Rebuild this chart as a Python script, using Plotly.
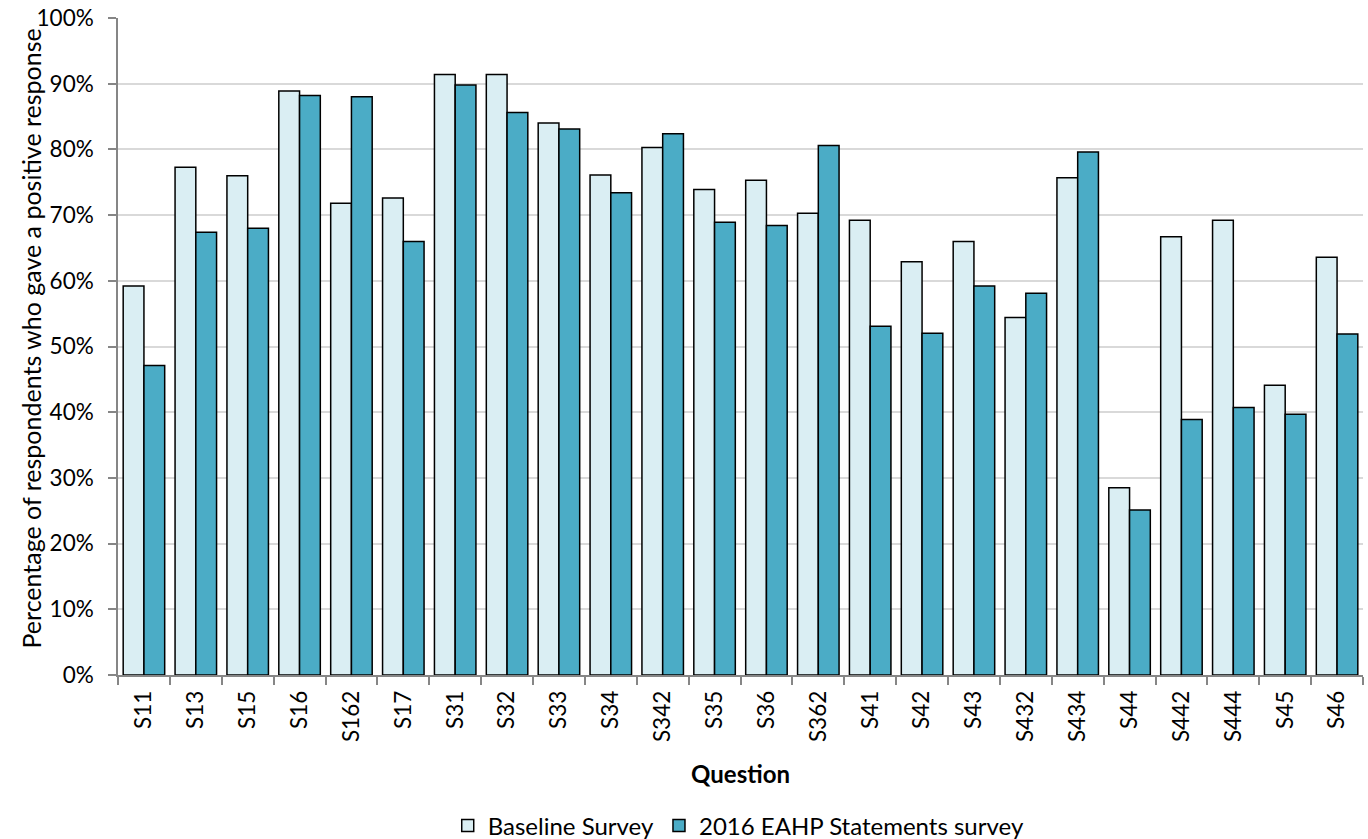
import plotly.graph_objects as go

questions = ["S11", "S13", "S15", "S16", "S162", "S17", "S31", "S32", "S33", "S34",
             "S342", "S35", "S36", "S362", "S41", "S42", "S43", "S432", "S434", "S44",
             "S442", "S444", "S45", "S46"]
baseline = [59.2, 77.3, 76.0, 88.9, 71.8, 72.6, 91.4, 91.4, 84.0, 76.1,
            80.3, 73.9, 75.3, 70.3, 69.2, 62.9, 66.0, 54.4, 75.7, 28.5,
            66.7, 69.2, 44.1, 63.6]
eahp2016 = [47.1, 67.4, 68.0, 88.2, 88.0, 66.0, 89.8, 85.6, 83.1, 73.4,
            82.4, 68.9, 68.4, 80.6, 53.1, 52.0, 59.2, 58.1, 79.6, 25.1,
            38.9, 40.7, 39.7, 51.9]
series_names = ["Baseline Survey", "2016 EAHP Statements survey"]
y_ticks = list(range(0, 101, 10))

FONT = "Lato"

fig = go.Figure()
fig.add_trace(go.Bar(x=questions, y=baseline, name=series_names[0],
                     marker=dict(color="#DAEEF3", line=dict(color="#000000", width=1.5))))
fig.add_trace(go.Bar(x=questions, y=eahp2016, name=series_names[1],
                     marker=dict(color="#4BACC6", line=dict(color="#000000", width=1.5))))

fig.update_layout(
    width=1368, height=839,
    margin=dict(l=118, r=5, t=18, b=164),
    paper_bgcolor="white", plot_bgcolor="white",
    barmode="group", bargap=0.2, bargroupgap=0,
    font=dict(family=FONT, size=24, color="#000000"),
    showlegend=True,
    legend=dict(orientation="h", x=0.54, xanchor="center", xref="container",
                y=1 - 826 / 839, yanchor="middle", yref="container",
                font=dict(family=FONT, size=24), itemwidth=30,
                traceorder="normal"),
    annotations=[dict(text="Percentage of respondents who gave a positive response",
                      textangle=-90, xref="paper", yref="paper", x=0, y=0.5,
                      xanchor="center", yanchor="middle", xshift=-88, yshift=8,
                      showarrow=False, font=dict(family=FONT, size=25))],
)
fig.update_yaxes(
    range=[0, 100], tickvals=y_ticks, ticktext=[f"{v}%" for v in y_ticks],
    showgrid=True, gridcolor="#D9D9D9", gridwidth=1.5,
    showline=True, linecolor="#868686", linewidth=1.5,
    ticks="outside", ticklen=8, tickcolor="#868686", tickwidth=1.5,
    tickfont=dict(family=FONT, size=22.5), ticklabelstandoff=10,
    zeroline=False, automargin=False,
)
fig.update_xaxes(
    showline=True, linecolor="#868686", linewidth=1.5,
    ticks="outside", ticklen=8, tickcolor="#868686", tickwidth=1.5,
    tickson="boundaries", tickangle=-90,
    tickfont=dict(family=FONT, size=22.5), ticklabelstandoff=5, automargin=False,
    title=dict(text="<b>Question</b>", font=dict(family=FONT, size=24), standoff=25),
)

fig.write_html("out.html", config={"displayModeBar": False},
               post_script="document.body.style.margin='0';")
